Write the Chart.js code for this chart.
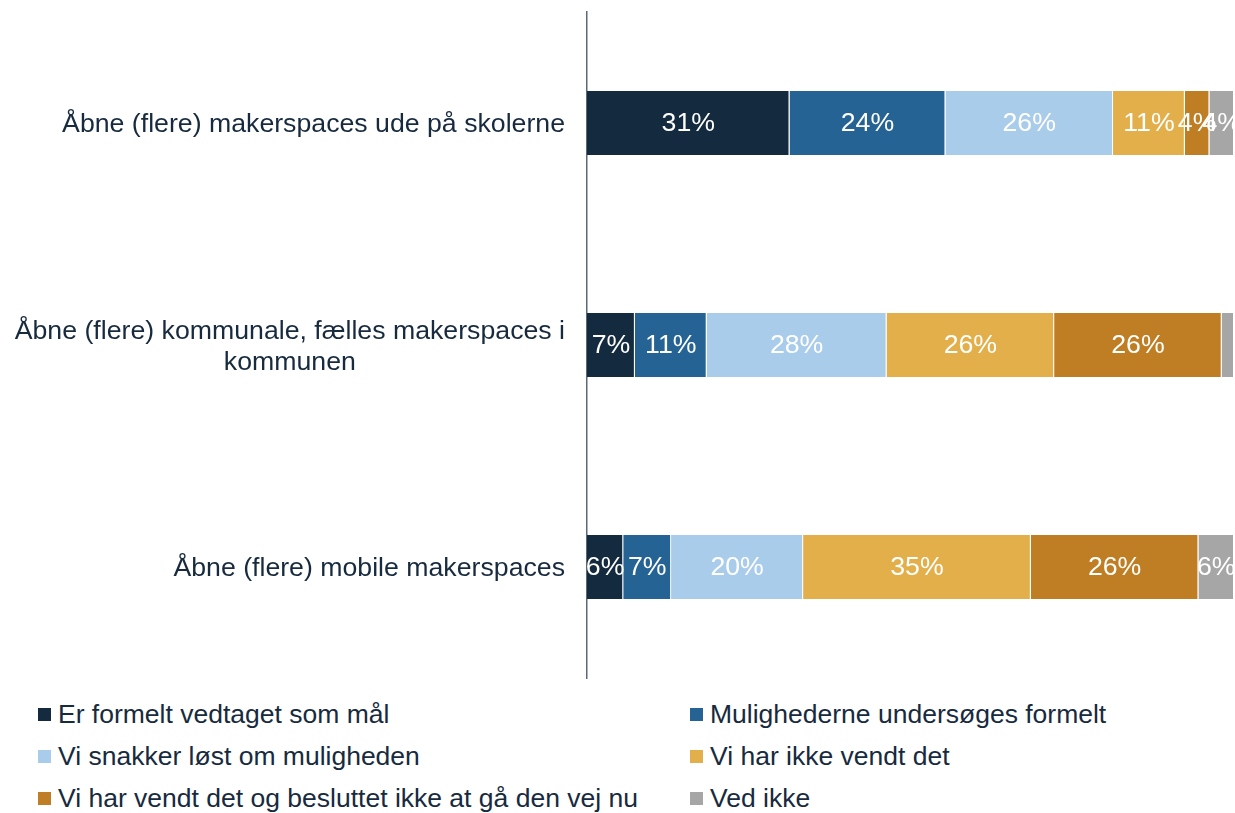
<!DOCTYPE html>
<html>
<head>
<meta charset="utf-8">
<script src="https://cdn.jsdelivr.net/npm/chart.js@4"></script>
<style>
  body { margin: 0; background: #fff; font-family: "Liberation Sans", Arial, sans-serif; }
  #wrap { position: relative; width: 1235px; height: 813px; }
  #box { position: absolute; left: 0; top: 0; width: 1235px; height: 690px; }
  #legend { position: absolute; left: 0; top: 693px; width: 1235px; }
  .item { position: absolute; height: 42px; line-height: 42px; font-size: 26.5px; color: #172A3E; white-space: nowrap; }
  .item span { display: inline-block; width: 13px; height: 13px; margin-right: 7px; vertical-align: middle; position: relative; top: -2px; }
</style>
</head>
<body>
<div id="wrap">
  <div id="box"><canvas id="myChart"></canvas></div>
  <div id="legend"></div>
</div>
<script>
const categories = [
  ['Åbne (flere) makerspaces ude på skolerne'],
  ['Åbne (flere) kommunale, fælles makerspaces i', 'kommunen'],
  ['Åbne (flere) mobile makerspaces']
]
const seriesNames = [
  'Er formelt vedtaget som mål',
  'Mulighederne undersøges formelt',
  'Vi snakker løst om muligheden',
  'Vi har ikke vendt det',
  'Vi har vendt det og besluttet ikke at gå den vej nu',
  'Ved ikke'
]
const colors = ['#132A3F', '#256395', '#A9CCEA', '#E3AF4B', '#BF7E23', '#A6A6A6']
const vedtaget   = [31.3, 7.4, 5.6]
const undersoges = [24.1, 11.1, 7.4]
const snakker    = [25.9, 27.8, 20.4]
const ikkeVendt  = [11.1, 25.9, 35.2]
const besluttet  = [3.8, 25.9, 25.9]
const vedIkke    = [3.8, 1.9, 5.5]
const series = [vedtaget, undersoges, snakker, ikkeVendt, besluttet, vedIkke]

const font = '26.7px "Liberation Sans", Arial, sans-serif'

// white % labels inside the bars
const barLabels = {
  id: 'barLabels',
  afterDatasetsDraw(chart) {
    const ctx = chart.ctx
    ctx.save()
    ctx.font = font
    ctx.fillStyle = '#fff'
    ctx.textAlign = 'center'
    ctx.textBaseline = 'middle'
    chart.data.datasets.forEach((ds, i) => {
      chart.getDatasetMeta(i).data.forEach((bar, j) => {
        const v = ds.data[j]
        if (v < 2.5) return
        ctx.fillText(Math.round(v) + '%', (bar.x + bar.base) / 2, bar.y + 1)
      })
    })
    ctx.restore()
  }
}

// category labels, right edge at the axis, lines centered in their block
const catLabels = {
  id: 'catLabels',
  afterDraw(chart) {
    const ctx = chart.ctx
    const y = chart.scales.y
    ctx.save()
    ctx.font = font
    ctx.fillStyle = '#172A3E'
    ctx.textAlign = 'center'
    ctx.textBaseline = 'middle'
    categories.forEach((lines, i) => {
      const w = Math.max(...lines.map(l => ctx.measureText(l).width))
      const right = chart.chartArea.left - 22
      const cy = y.getPixelForValue(i) + 2
      const lh = 31
      lines.forEach((l, k) => {
        ctx.fillText(l, right - w / 2, cy + (k - (lines.length - 1) / 2) * lh)
      })
    })
    ctx.restore()
  }
}

const ctx = document.getElementById('myChart').getContext('2d')
const myChart = new Chart(ctx, {
  type: 'bar',
  data: {
    labels: categories.map(c => c.join(' ')),
    datasets: series.map((d, i) => ({
      label: seriesNames[i],
      data: d,
      backgroundColor: colors[i],
      borderColor: '#ffffff',
      borderWidth: { left: 0, right: 1, top: 0, bottom: 0 },
      borderSkipped: false,
      barPercentage: 0.289,
      categoryPercentage: 1
    }))
  },
  options: {
    indexAxis: 'y',
    responsive: true,
    maintainAspectRatio: false,
    animation: false,
    layout: { padding: { top: 12, bottom: 12, right: 1, left: 0 } },
    plugins: { legend: { display: false }, tooltip: { enabled: false } },
    scales: {
      x: { stacked: true, min: 0, max: 100, display: false },
      y: {
        stacked: true,
        grid: { display: false },
        ticks: { display: false },
        border: { display: true, color: '#5A6878', width: 1.5 },
        afterFit(s) { s.width = 587 }
      }
    }
  },
  plugins: [barLabels, catLabels]
})

// legend in two columns
const legend = document.getElementById('legend')
const colX = [38, 690]
seriesNames.forEach((name, i) => {
  const el = document.createElement('div')
  el.className = 'item'
  el.style.left = colX[i % 2] + 'px'
  el.style.top = Math.floor(i / 2) * 42 + 'px'
  el.innerHTML = '<span style="background:' + colors[i] + '"></span>' + name
  legend.appendChild(el)
})
</script>
</body>
</html>
